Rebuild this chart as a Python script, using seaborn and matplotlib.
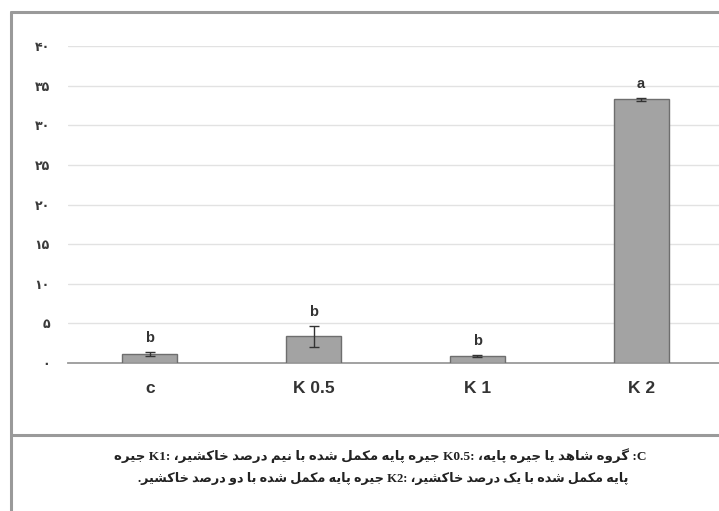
import matplotlib
matplotlib.use("Agg")
import matplotlib.pyplot as plt
from matplotlib.lines import Line2D
import seaborn as sns
import pandas as pd

# ---- data ----
groups = ["c", "K 0.5", "K 1", "K 2"]
means = [1.1, 3.35, 0.85, 33.3]
errors = [0.25, 1.35, 0.15, 0.2]
letters = ["b", "b", "b", "a"]
y_ticks = [0, 5, 10, 15, 20, 25, 30, 35, 40]
y_tick_labels = ["۰", "۵", "۱۰", "۱۵", "۲۰", "۲۵", "۳۰", "۳۵", "۴۰"]

caption_line1 = [":C", "گروه", "شاهد", "یا", "جیره", "پایه،", "K0.5:", "جیره", "پایه",
                 "مکمل", "شده", "با", "نیم", "درصد", "خاکشیر،", "K1:", "جیره"]
caption_line2 = ["پایه", "مکمل", "شده", "با", "یک", "درصد", "خاکشیر،", "K2:", "جیره",
                 "پایه", "مکمل", "شده", "با", "دو", "درصد", "خاکشیر."]

# ---- simple Persian shaping (presentation forms) for RTL text ----
FORMS = {  # isolated, final, initial, medial
    "ب": ("\uFE8F", "\uFE90", "\uFE91", "\uFE92"),
    "پ": ("\uFB56", "\uFB57", "\uFB58", "\uFB59"),
    "ج": ("\uFE9D", "\uFE9E", "\uFE9F", "\uFEA0"),
    "خ": ("\uFEA5", "\uFEA6", "\uFEA7", "\uFEA8"),
    "ش": ("\uFEB5", "\uFEB6", "\uFEB7", "\uFEB8"),
    "ص": ("\uFEB9", "\uFEBA", "\uFEBB", "\uFEBC"),
    "ک": ("\uFB8E", "\uFB8F", "\uFB90", "\uFB91"),
    "گ": ("\uFB92", "\uFB93", "\uFB94", "\uFB95"),
    "ل": ("\uFEDD", "\uFEDE", "\uFEDF", "\uFEE0"),
    "م": ("\uFEE1", "\uFEE2", "\uFEE3", "\uFEE4"),
    "ن": ("\uFEE5", "\uFEE6", "\uFEE7", "\uFEE8"),
    "ه": ("\uFEE9", "\uFEEA", "\uFEEB", "\uFEEC"),
    "ی": ("\uFBFC", "\uFBFD", "\uFBFE", "\uFBFF"),
    "ا": ("\uFE8D", "\uFE8E", None, None),
    "د": ("\uFEA9", "\uFEAA", None, None),
    "ر": ("\uFEAD", "\uFEAE", None, None),
    "و": ("\uFEED", "\uFEEE", None, None),
}


def dual(ch):
    return ch in FORMS and FORMS[ch][2] is not None


def joining(ch):
    return ch in FORMS


def shape_word(word):
    if not any(joining(c) for c in word):
        return word
    out = []
    for i, ch in enumerate(word):
        if ch not in FORMS:
            out.append(ch)
            continue
        prev = word[i - 1] if i > 0 else None
        nxt = word[i + 1] if i + 1 < len(word) else None
        jp = prev is not None and dual(prev)
        jn = dual(ch) and nxt is not None and joining(nxt)
        iso, fin, ini, med = FORMS[ch]
        if jp and jn:
            out.append(med)
        elif jp:
            out.append(fin)
        elif jn:
            out.append(ini)
        else:
            out.append(iso)
    return "".join(reversed(out))


def rtl_line(tokens):
    return " ".join(shape_word(t) for t in reversed(tokens))


# ---- figure ----
sns.set_theme(style="white")
plt.rcParams["font.family"] = ["DejaVu Sans"]

fig = plt.figure(figsize=(7.19, 5.11), dpi=100)
fig.patch.set_facecolor("white")

ax = fig.add_axes([0.0946, 0.2896, 0.911, 0.6204])
df = pd.DataFrame({"group": groups, "mean": means})
sns.barplot(data=df, x="group", y="mean", color="#a3a3a3", saturation=1,
            width=0.336, edgecolor="#6e6e6e", linewidth=1.0, ax=ax, zorder=3)
ax.errorbar(range(len(groups)), means, yerr=errors, fmt="none",
            ecolor="#333333", elinewidth=1.0, capsize=3.5, capthick=1.0, zorder=4)

for i, (m, e, t) in enumerate(zip(means, errors, letters)):
    ax.annotate(t, (i, m + e), xytext=(0, 5), textcoords="offset points",
                ha="center", va="bottom", fontsize=10.5, fontweight="bold",
                color="#333333", family=["Liberation Sans", "DejaVu Sans"])

ax.set_xlim(-0.5, 3.5)
ax.set_ylim(0, 40)
ax.set_yticks(y_ticks)
ax.set_yticklabels(y_tick_labels, fontsize=9, fontweight="bold", color="#3a3a3a")
ax.yaxis.grid(True, color="#e2e2e2", linewidth=1.0, zorder=0)
ax.set_axisbelow(True)
ax.tick_params(axis="y", length=0, pad=13)
ax.tick_params(axis="x", length=0, pad=13)
for lab in ax.get_xticklabels():
    lab.set_fontsize(12.5)
    lab.set_fontweight("bold")
    lab.set_color("#333333")
    lab.set_family(["Liberation Sans", "DejaVu Sans"])
ax.set_xlabel("")
ax.set_ylabel("")
for side in ["top", "right", "left"]:
    ax.spines[side].set_visible(False)
ax.spines["bottom"].set_color("#9a9a9a")
ax.spines["bottom"].set_linewidth(1.3)
ax.patch.set_alpha(0)

# frame around chart and caption
frame_kw = dict(color="#9a9a9a", linewidth=2.2, transform=fig.transFigure)
fig.add_artist(Line2D([0.0155, 0.0155], [0.0, 0.977], **frame_kw))
fig.add_artist(Line2D([0.0155, 1.0], [0.977, 0.977], **frame_kw))
fig.add_artist(Line2D([0.0155, 1.0], [0.149, 0.149], **frame_kw))

cap_kw = dict(ha="right", va="center", fontweight="bold",
              color="#222222", family=["Liberation Serif", "DejaVu Sans"])
fig.text(0.899, 0.109, rtl_line(caption_line1), fontsize=9.6, **cap_kw)
fig.text(0.874, 0.064, rtl_line(caption_line2), fontsize=9.2, **cap_kw)

fig.savefig("out.png", dpi=100, facecolor="white")
